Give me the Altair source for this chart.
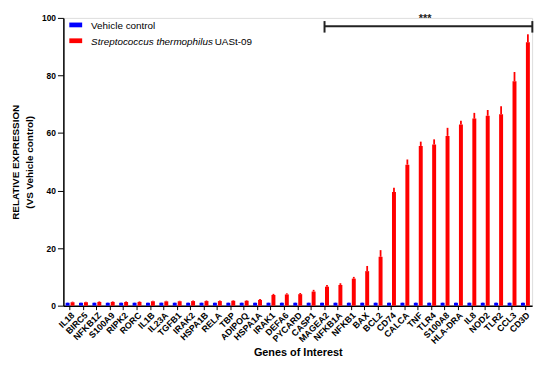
import altair as alt
import pandas as pd

genes = ["IL18", "BIRC5", "NFKB1Z", "S100A9", "RIPK2", "RORC", "IL1B", "IL23A",
         "TGFB1", "IRAK2", "HSPA1B", "RELA", "TBP", "ADIPOQ", "HSPA1A", "IRAK1",
         "DEFA6", "PYCARD", "CASP1", "MAGEA2", "NFKB1A", "NFKB1", "BAX", "BCL2",
         "CD74", "CALCA", "TNF", "TLR4", "S100A8", "HLA-DRA", "IL8", "NOD2",
         "TLR2", "CCL3", "CD3D"]

vehicle = [1.0, 1.0, 1.0, 1.0, 1.0, 1.0, 1.0, 1.0, 1.0, 1.0, 1.0, 1.0,
           1.0, 1.0, 1.0, 1.0, 1.0, 1.0, 1.0, 1.0, 1.0, 1.0, 1.0, 1.0,
           1.0, 1.0, 1.0, 1.0, 1.0, 1.0, 1.0, 1.0, 1.0, 1.0, 1.0]
vehicle_err = [0.1, 0.1, 0.1, 0.1, 0.1, 0.1, 0.1, 0.1, 0.1, 0.1, 0.1, 0.1,
               0.1, 0.1, 0.1, 0.1, 0.1, 0.1, 0.1, 0.1, 0.1, 0.1, 0.1, 0.1,
               0.1, 0.1, 0.1, 0.1, 0.1, 0.1, 0.1, 0.1, 0.1, 0.1, 0.1]

treated = [1.2, 1.2, 1.3, 1.3, 1.3, 1.3, 1.5, 1.5, 1.5, 1.6, 1.6, 1.6,
           1.7, 1.7, 2.0, 3.7, 3.9, 4.0, 4.9, 6.6, 7.2, 9.4, 12.0, 17.0,
           39.5, 49.0, 55.5, 56.0, 59.0, 63.0, 65.0, 66.0, 66.5, 78.0, 91.5]
treated_err = [0.2, 0.2, 0.2, 0.2, 0.2, 0.2, 0.2, 0.2, 0.2, 0.2, 0.2, 0.2,
               0.2, 0.2, 0.3, 0.4, 0.4, 0.4, 0.6, 0.6, 0.6, 0.6, 1.8, 2.3,
               1.5, 1.8, 1.5, 1.8, 2.8, 1.3, 2.0, 2.0, 2.8, 3.2, 2.8]

groups = ["Vehicle control", "Streptococcus thermophilus UASt-09"]
colors = ["#0000ff", "#ff0000"]

y_ticks = [0, 20, 40, 60, 80, 100]

bracket_from = "MAGEA2"
bracket_to = "CD3D"
bracket_level = 97.1
cap_low = 94.9
cap_high = 98.9
stars_gene = "TNF"
stars_level = 98.6

rows = []
for g, v, e in zip(genes, vehicle, vehicle_err):
    rows.append({"gene": g, "group": groups[0], "value": v, "top": v + e})
for g, v, e in zip(genes, treated, treated_err):
    rows.append({"gene": g, "group": groups[1], "value": v, "top": v + e})
df = pd.DataFrame(rows)

FONT = "Liberation Sans"
W, H = 474, 291

xscale = alt.Scale(domain=genes, paddingInner=0.335, paddingOuter=0.1675)
yscale = alt.Scale(domain=[0, 100], nice=False)
offscale = alt.Scale(domain=groups, paddingInner=0.2, paddingOuter=0)
cscale = alt.Scale(domain=groups, range=colors)

xaxis = alt.Axis(title="Genes of Interest", labelAngle=-45, labelAlign="right",
                 labelBaseline="top", labelFontSize=9, labelFontWeight="bold",
                 labelFont=FONT, labelColor="black", labelPadding=1,
                 tickSize=4, tickColor="black", domainColor="black", domainWidth=1.5,
                 titleFont=FONT, titleFontSize=11, titleFontWeight="bold",
                 titleColor="black", titleY=47, titleBaseline="middle")
yaxis = alt.Axis(title=["RELATIVE EXPRESSION", "(VS Vehicle control)"], values=y_ticks,
                 labelFontSize=8.5, labelFontWeight="bold", labelFont=FONT,
                 labelColor="black", labelPadding=2, tickSize=6, tickColor="black",
                 domainColor="black", domainWidth=1.5, grid=False,
                 titleFont=FONT, titleFontSize=10, titleFontWeight="bold",
                 titleColor="black", titleAngle=-90, titleX=-48, titleY=H / 2,
                 titleBaseline="middle", titleAlign="center", titleLineHeight=14)

base = alt.Chart(df)
bars = base.mark_bar().encode(
    x=alt.X("gene:N", sort=genes, scale=xscale, axis=xaxis),
    xOffset=alt.XOffset("group:N", sort=groups, scale=offscale),
    y=alt.Y("value:Q", scale=yscale, axis=yaxis, stack=None),
    color=alt.Color("group:N", scale=cscale, legend=None),
)
errs = base.mark_rule(strokeWidth=1.8).encode(
    x=alt.X("gene:N", sort=genes),
    xOffset=alt.XOffset("group:N", sort=groups),
    y=alt.Y("value:Q"),
    y2="top:Q",
    color=alt.Color("group:N", scale=cscale, legend=None),
)

br_df = pd.DataFrame({"gene": [bracket_from], "gene2": [bracket_to], "y": [bracket_level]})
bracket = alt.Chart(br_df).mark_rule(strokeWidth=2, color="#222222", x2Offset=7).encode(
    x=alt.X("gene:N", sort=genes), x2="gene2:N", y="y:Q")
capl_df = pd.DataFrame({"gene": [bracket_from], "y0": [cap_low], "y1": [cap_high]})
capl = alt.Chart(capl_df).mark_rule(strokeWidth=2, color="#222222").encode(
    x=alt.X("gene:N", sort=genes), y="y0:Q", y2="y1:Q")
capr_df = pd.DataFrame({"gene": [bracket_to], "y0": [cap_low], "y1": [cap_high]})
capr = alt.Chart(capr_df).mark_rule(strokeWidth=2, color="#222222", xOffset=7).encode(
    x=alt.X("gene:N", sort=genes), y="y0:Q", y2="y1:Q")
st_df = pd.DataFrame({"gene": [stars_gene], "y": [stars_level], "t": ["***"]})
stars = alt.Chart(st_df).mark_text(dx=7, fontSize=11, fontWeight="bold", font=FONT,
                                   baseline="alphabetic", color="#222222").encode(
    x=alt.X("gene:N", sort=genes), y="y:Q", text="t:N")

one = pd.DataFrame({"a": [0]})
sw1 = alt.Chart(one).mark_rect(color=colors[0]).encode(
    x=alt.value(6), x2=alt.value(19), y=alt.value(4.7), y2=alt.value(9.5))
sw2 = alt.Chart(one).mark_rect(color=colors[1]).encode(
    x=alt.value(6), x2=alt.value(19), y=alt.value(20.7), y2=alt.value(25.5))
t1 = alt.Chart(one).mark_text(align="left", baseline="middle", fontSize=10, font=FONT,
                              color="black").encode(
    x=alt.value(28), y=alt.value(8), text=alt.value("Vehicle control"))
t2 = alt.Chart(one).mark_text(align="left", baseline="middle", fontSize=10, font=FONT,
                              fontStyle="italic", color="black").encode(
    x=alt.value(28), y=alt.value(24), text=alt.value("Streptococcus thermophilus"))
t3 = alt.Chart(one).mark_text(align="left", baseline="middle", fontSize=10, font=FONT,
                              color="black").encode(
    x=alt.value(153), y=alt.value(24), text=alt.value("UASt-09"))

chart = alt.layer(bars, errs, bracket, capl, capr, stars, sw1, sw2, t1, t2, t3).properties(
    width=W, height=H,
    autosize=alt.AutoSizeParams(type="none"),
    padding={"left": 56, "top": 8, "right": 10, "bottom": 60},
).configure_view(stroke=None).configure(background="white")

chart.save("out.html", embed_options={"renderer": "svg", "actions": False})
